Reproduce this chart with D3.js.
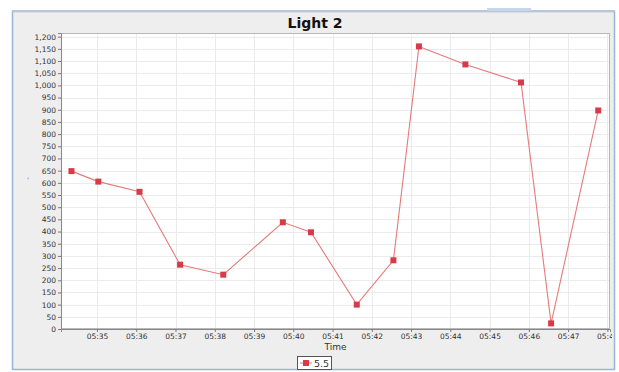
<!DOCTYPE html>
<html><head><meta charset="utf-8">
<script src="https://cdn.jsdelivr.net/npm/d3@7"></script>
<style>html,body{margin:0;padding:0;background:#fff;}svg{display:block;font-family:"DejaVu Sans",sans-serif;}</style>
</head><body>
<svg id="c" width="619" height="372"></svg>
<script>
const title = "Light 2";
const xTitle = "Time";
const seriesName = "5.5";
const times = ["05:34:21","05:35:02","05:36:05","05:37:07","05:38:13","05:39:44","05:40:27","05:41:37","05:42:33","05:43:12","05:44:23","05:45:48","05:46:34","05:47:46"];
const values = [648,605,563,264,223,438,397,100,282,1160,1086,1012,23,897];
const xDomainLabels = ["05:34:05","05:48:04"];
const yTicks = d3.range(0, 1201, 50);
const yMax = 1215;

const parse = d3.timeParse("%H:%M:%S");
const data = times.map((t,i)=>({t:parse(t), v:values[i]}));

const svg = d3.select("#c");
svg.append("defs").append("clipPath").attr("id","fc").append("rect")
  .attr("x",0).attr("y",0).attr("width",612).attr("height",372);
// frame
svg.append("rect").attr("x",12.5).attr("y",11.5).attr("width",602).attr("height",358)
  .attr("fill","#eeeeee").attr("stroke","#9bb4d6").attr("stroke-width",1.5);
svg.append("line").attr("x1",12).attr("x2",615).attr("y1",11).attr("y2",11).attr("stroke","#b9c6d6").attr("stroke-width",2);
svg.append("rect").attr("x",487).attr("y",8).attr("width",44).attr("height",3).attr("fill","#c5d5ea");

const L=61, R=610, T=33, B=329;
const x = d3.scaleTime().domain(xDomainLabels.map(parse)).range([L,R]);
const y = d3.scaleLinear().domain([0,yMax]).range([B,T]);

svg.append("rect").attr("x",L).attr("y",T).attr("width",R-L).attr("height",B-T).attr("fill","#fff");

const xTicks = x.ticks(d3.timeMinute.every(1));
const g = svg.append("g");
g.selectAll(".gy").data(yTicks).join("line")
  .attr("x1",L).attr("x2",R).attr("y1",d=>Math.round(y(d))+0.5).attr("y2",d=>Math.round(y(d))+0.5)
  .attr("stroke","#ebebeb").attr("stroke-width",1);
g.selectAll(".gx").data(xTicks).join("line")
  .attr("y1",T).attr("y2",B).attr("x1",d=>Math.round(x(d))+0.5).attr("x2",d=>Math.round(x(d))+0.5)
  .attr("stroke","#ebebeb").attr("stroke-width",1);

svg.append("rect").attr("x",L+0.5).attr("y",T+0.5).attr("width",R-L-1).attr("height",B-T-1)
  .attr("fill","none").attr("stroke","#b8b8b8");

// axes
const yAxis = svg.append("g").attr("transform",`translate(${L},0)`)
  .call(d3.axisLeft(y).tickValues(yTicks).tickFormat(d3.format(",")).tickSize(3).tickPadding(2));
const xAxis = svg.append("g").attr("transform",`translate(0,${B})`).attr("clip-path","url(#fc)")
  .call(d3.axisBottom(x).tickValues(xTicks).tickFormat(d3.timeFormat("%H:%M")).tickSize(3).tickPadding(2));
[yAxis,xAxis].forEach(a=>{
  a.selectAll("text").attr("font-size","7.5px").attr("fill","#333").attr("font-family","DejaVu Sans");
  a.selectAll("line").attr("stroke","#777");
  a.select(".domain").attr("stroke","#888");
});

// line
const line = d3.line().x(d=>x(d.t)).y(d=>y(d.v));
svg.append("path").datum(data).attr("d",line).attr("fill","none").attr("stroke","#e57a7a").attr("stroke-width",1.1);
svg.selectAll(".pt").data(data).join("rect")
  .attr("x",d=>x(d.t)-3).attr("y",d=>y(d.v)-3).attr("width",6).attr("height",6).attr("fill","#d93a4a");

// titles
svg.append("text").attr("x",315).attr("y",28).attr("text-anchor","middle")
  .attr("font-size","14px").attr("font-weight","bold").attr("fill","#111").text(title);
svg.append("text").attr("x",(L+R)/2).attr("y",350).attr("text-anchor","middle")
  .attr("font-size","9px").attr("fill","#333").text(xTitle);
svg.append("text").attr("x",28).attr("y",182).attr("text-anchor","middle")
  .attr("font-size","6px").attr("fill","#333").text("'");

// legend
const lg = svg.append("g");
lg.append("rect").attr("x",297.5).attr("y",356.5).attr("width",34).attr("height",13).attr("fill","#fff").attr("stroke","#555");
lg.append("line").attr("x1",300).attr("x2",312).attr("y1",363).attr("y2",363).attr("stroke","#e57a7a");
lg.append("rect").attr("x",303).attr("y",360).attr("width",6).attr("height",6).attr("fill","#d93a4a");
lg.append("text").attr("x",314).attr("y",366.5).attr("font-size","9.5px").attr("fill","#333").text(seriesName);
</script>
</body></html>
